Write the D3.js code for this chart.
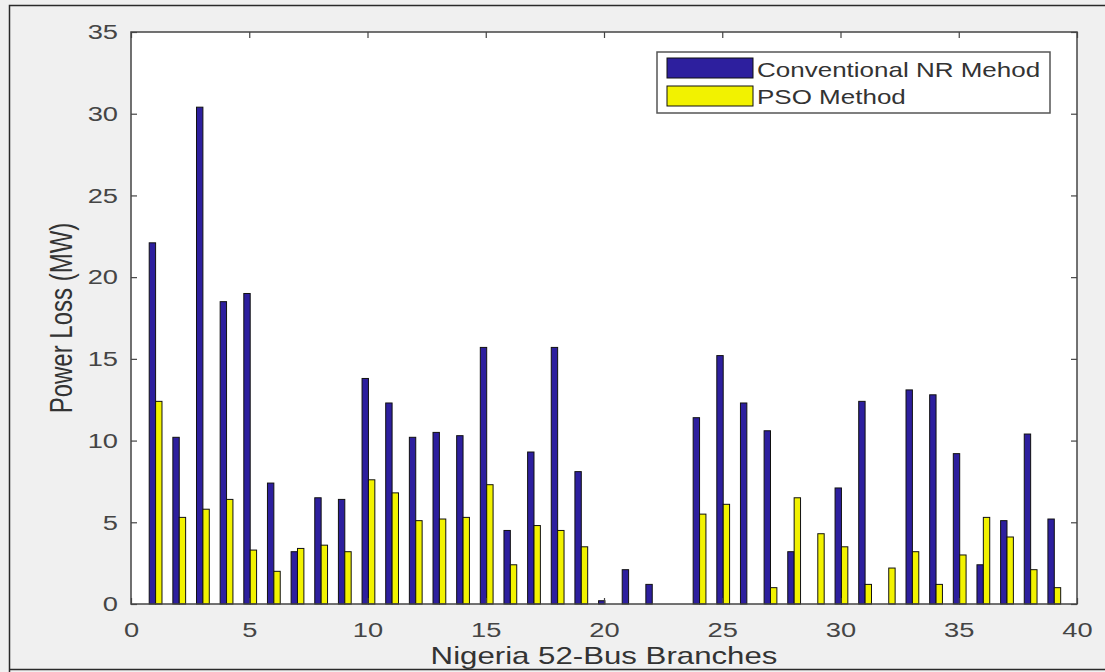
<!DOCTYPE html>
<html>
<head>
<meta charset="utf-8">
<script src="https://cdn.jsdelivr.net/npm/d3@7"></script>
<style>
  body { margin: 0; background: #f0f0f0; }
  svg { display: block; font-family: "Liberation Sans", Arial, Helvetica, sans-serif; }
</style>
</head>
<body>
<div id="chart-area"></div>
<script>
// DATA
// ****

let branches = d3.range(1, 40)
let nrLoss = [22.1, 10.2, 30.4, 18.5, 19.0, 7.4, 3.2, 6.5, 6.4, 13.8,
              12.3, 10.2, 10.5, 10.3, 15.7, 4.5, 9.3, 15.7, 8.1, 0.2,
              2.1, 1.2, 0, 11.4, 15.2, 12.3, 10.6, 3.2, 0, 7.1,
              12.4, 0, 13.1, 12.8, 9.2, 2.4, 5.1, 10.4, 5.2]
let psoLoss = [12.4, 5.3, 5.8, 6.4, 3.3, 2.0, 3.4, 3.6, 3.2, 7.6,
               6.8, 5.1, 5.2, 5.3, 7.3, 2.4, 4.8, 4.5, 3.5, 0,
               0, 0, 0, 5.5, 6.1, 0, 1.0, 6.5, 4.3, 3.5,
               1.2, 2.2, 3.2, 1.2, 3.0, 5.3, 4.1, 2.1, 1.0]
let seriesNames = ["Conventional NR Mehod", "PSO Method"]
let xTicks = [0, 5, 10, 15, 20, 25, 30, 35, 40]
let yTicks = [0, 5, 10, 15, 20, 25, 30, 35]

// MARGINS & GROUPS
// ****************

let W = 1105
let H = 672
let margin = {top: 32, right: 28, bottom: 68, left: 131}
let width = W - margin.left - margin.right
let height = H - margin.top - margin.bottom
let stretch = 1.3   // picture is stretched sideways, text too
let colors = ["#2d1f9e", "#f2f200"]

let svg = d3.select("#chart-area")
	.append("svg")
		.attr("width", W)
		.attr("height", H)

// outer frame
svg.append("rect").attr("width", W).attr("height", H).attr("fill", "#f0f0f0")
svg.append("path")
	.attr("d", "M9.5,672 V5.5 H1105 M9.5,669.5 H1105")
	.attr("fill", "none")
	.attr("stroke", "#2a2a2a")
	.attr("stroke-width", 1.5)

let g = svg.append("g")
	.attr("transform", "translate(" + margin.left + ", " + margin.top + ")")

g.append("rect")
	.attr("width", width)
	.attr("height", height)
	.attr("fill", "white")

// SCALES
// ******

let x = d3.scaleLinear().domain([0, 40]).range([0, width])
let y = d3.scaleLinear().domain([0, 35]).range([height, 0])
let barW = 0.27
let off = 0.04

// BARS
// ****

let series = [nrLoss, psoLoss]
series.forEach((vals, s) => {
  g.append("g").selectAll("rect")
    .data(branches.map((b, i) => ({b: b, v: vals[i]})).filter(d => d.v > 0))
    .enter()
    .append("rect")
      .attr("x", d => x(d.b + off - barW + s * barW))
      .attr("y", d => y(d.v))
      .attr("width", x(barW) - x(0))
      .attr("height", d => height - y(d.v))
      .attr("fill", colors[s])
      .attr("stroke", "#111")
      .attr("stroke-width", 1)
})

// AXES
// ****

function styleAxis(sel) {
  sel.select(".domain").remove()
  sel.selectAll("line").attr("stroke", "#444").attr("stroke-width", 1.2)
  sel.selectAll("text")
    .attr("fill", "#454545")
    .attr("font-size", "21px")
    .attr("font-family", "\"Liberation Sans\", Arial, sans-serif")
    .attr("transform", "scale(" + stretch + ",1)")
}

// BOTTOM
g.append("g")
	.attr("transform", "translate(0, " + height + ")")
	.call(d3.axisBottom(x).tickValues(xTicks).tickSizeInner(-6).tickSizeOuter(0).tickPadding(18))
	.call(styleAxis)

// TOP
g.append("g")
	.call(d3.axisTop(x).tickValues(xTicks).tickSizeInner(-6).tickSizeOuter(0).tickFormat(""))
	.call(styleAxis)

// LEFT
g.append("g")
	.call(d3.axisLeft(y).tickValues(yTicks).tickSizeInner(-6).tickSizeOuter(0).tickPadding(10))
	.call(styleAxis)

// RIGHT
g.append("g")
	.attr("transform", "translate(" + width + ", 0)")
	.call(d3.axisRight(y).tickValues(yTicks).tickSizeInner(-6).tickSizeOuter(0).tickFormat(""))
	.call(styleAxis)

// box
g.append("rect")
	.attr("width", width)
	.attr("height", height)
	.attr("fill", "none")
	.attr("stroke", "#444")
	.attr("stroke-width", 1.5)

// LABELS
// ******

svg.append("text")
	.attr("transform", "translate(72, 318) scale(" + stretch + ",1) rotate(-90)")
	.attr("text-anchor", "middle")
	.attr("font-size", "24px")
	.attr("fill", "#333")
	.text("Power Loss (MW)")

svg.append("text")
	.attr("transform", "translate(" + (margin.left + width / 2) + ", 664) scale(" + stretch + ",1)")
	.attr("text-anchor", "middle")
	.attr("font-size", "24px")
	.attr("fill", "#333")
	.text("Nigeria 52-Bus Branches")

// LEGEND
// ******

let legend = svg.append("g").attr("transform", "translate(657, 52)")
legend.append("rect")
	.attr("width", 393)
	.attr("height", 61)
	.attr("fill", "white")
	.attr("stroke", "#555")
	.attr("stroke-width", 1.5)

seriesNames.forEach((name, i) => {
  legend.append("rect")
    .attr("x", 10)
    .attr("y", 6 + i * 28)
    .attr("width", 86)
    .attr("height", 20)
    .attr("fill", colors[i])
    .attr("stroke", "#111")
    .attr("stroke-width", 1)
  legend.append("text")
    .attr("transform", "translate(100, " + (25 + i * 27) + ") scale(" + stretch + ",1)")
    .attr("font-size", "20px")
    .attr("fill", "#333")
    .text(name)
})
</script>
</body>
</html>
